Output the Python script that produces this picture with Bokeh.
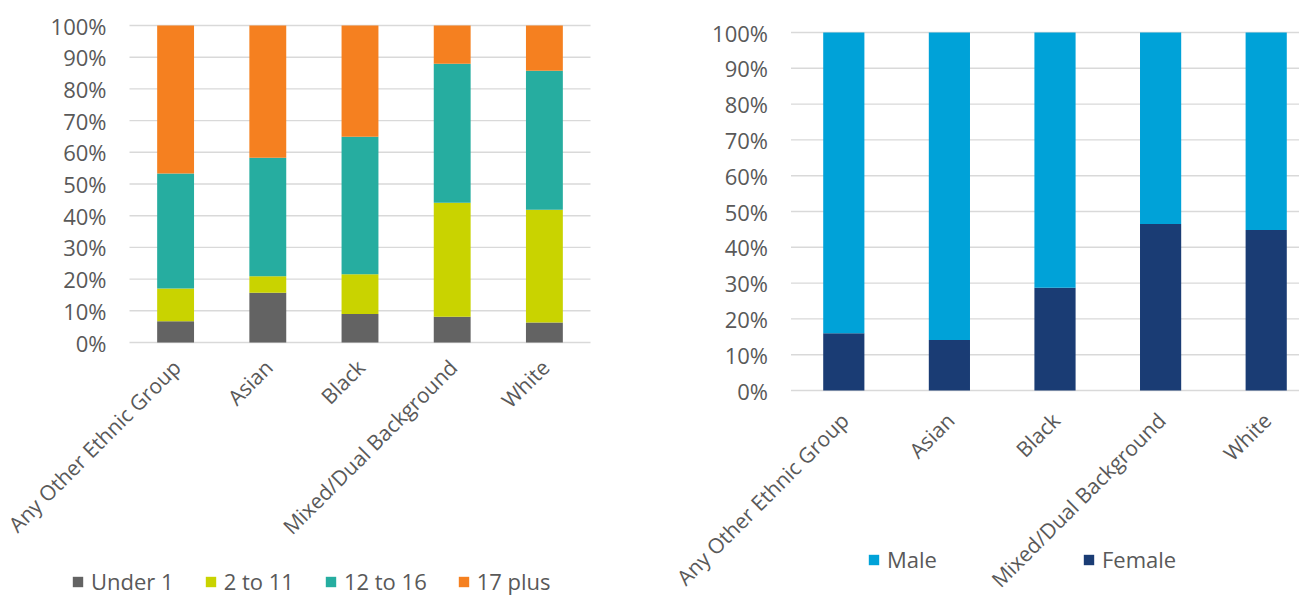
import math
from bokeh.plotting import figure
from bokeh.models import Legend, LegendItem, Range1d, ColumnDataSource
from bokeh.core.properties import value
from bokeh.layouts import row
from bokeh.embed import file_html
from bokeh.resources import INLINE

# ---------------- data ----------------
categories = ["Any Other Ethnic Group", "Asian", "Black",
              "Mixed/Dual Background", "White"]

age_groups = ["Under 1", "2 to 11", "12 to 16", "17 plus"]
under_1 = [6.7, 15.7, 9.0, 8.1, 6.3]
age_2_to_11 = [10.3, 5.2, 12.5, 36.0, 35.6]
age_12_to_16 = [36.3, 37.4, 43.4, 43.8, 43.8]
age_17_plus = [46.7, 41.7, 35.1, 12.1, 14.3]

genders = ["Male", "Female"]
female = [16.0, 14.1, 28.7, 46.5, 44.8]
male = [84.0, 85.9, 71.3, 53.5, 55.2]

y_ticks = [i / 10 for i in range(11)]
y_tick_labels = ["0%", "10%", "20%", "30%", "40%", "50%",
                 "60%", "70%", "80%", "90%", "100%"]

age_colors = ["#636363", "#c9d300", "#26ada0", "#f58020"]
gender_colors = {"Male": "#00a2d8", "Female": "#1a3c74"}

FONT = "Open Sans"
TXT = "#595959"
GRID = "#d9d9d9"
H = 609

xs = list(range(len(categories)))


def make_fig(width, frame_left, frame_right, frame_top, frame_bottom):
    """Figure whose canvas is entirely data space; the plot area of the
    original chart spans categories -0.5..n-0.5 horizontally and 0..1
    vertically between the given pixel edges."""
    n = len(categories)
    ux = (frame_right - frame_left) / n
    uy = (frame_bottom - frame_top)
    x0 = -0.5 - frame_left / ux
    x1 = x0 + width / ux
    y0 = -(H - frame_bottom) / uy
    y1 = 1 + frame_top / uy
    p = figure(width=width, height=H, x_range=Range1d(x0, x1),
               y_range=Range1d(y0, y1), output_backend="svg",
               toolbar_location=None, x_axis_type=None, y_axis_type=None,
               min_border=0)
    p.outline_line_color = None
    p.xgrid.visible = False
    p.ygrid.visible = False
    # horizontal grid lines at the tick values
    p.segment(x0=[-0.5] * len(y_ticks), x1=[n - 0.5] * len(y_ticks),
              y0=y_ticks, y1=y_ticks, line_color=GRID, line_width=1.4)
    # y tick labels
    p.text(x=[-0.5] * len(y_ticks), y=y_ticks, text=y_tick_labels,
           x_offset=-23, text_align="right", text_baseline="middle",
           text_font=value(FONT), text_font_size="22px", text_color=TXT)
    return p


def add_cat_labels(p, x_off, y_off):
    p.text(x=xs, y=[0] * len(xs), text=categories, angle=math.pi / 4,
           x_offset=x_off, y_offset=y_off, text_align="right",
           text_baseline="middle", text_font=value(FONT),
           text_font_size="21px", text_color=TXT)


def make_legend(items, loc, spacing):
    return Legend(items=items, orientation="horizontal", location=loc,
                  label_text_font=FONT, label_text_font_size="22px",
                  label_text_color=TXT, glyph_width=13, glyph_height=13,
                  label_standoff=7, spacing=spacing, padding=0, margin=0,
                  border_line_color=None, background_fill_alpha=0)


# ---------------- left chart ----------------
src1 = ColumnDataSource(data={
    "x": xs,
    age_groups[0]: [v / 100 for v in under_1],
    age_groups[1]: [v / 100 for v in age_2_to_11],
    age_groups[2]: [v / 100 for v in age_12_to_16],
    age_groups[3]: [v / 100 for v in age_17_plus],
})

p1 = make_fig(640, 129, 590, 25, 342)
r1 = p1.vbar_stack(age_groups, x="x", width=0.4, color=age_colors,
                   line_color=None, source=src1)
add_cat_labels(p1, 1, 21)
items1 = [LegendItem(label=n, renderers=[r]) for n, r in zip(age_groups, r1)]
p1.add_layout(make_legend(items1, (71, 13), 30))

# ---------------- right chart ----------------
src2 = ColumnDataSource(data={
    "x": xs,
    "Female": [v / 100 for v in female],
    "Male": [v / 100 for v in male],
})

p2 = make_fig(659, 150.5, 678.5, 32, 390)
r2 = p2.vbar_stack(["Female", "Male"], x="x", width=0.39,
                   color=[gender_colors["Female"], gender_colors["Male"]],
                   line_color=None, source=src2)
add_cat_labels(p2, 1, 26)
rmap = {"Female": r2[0], "Male": r2[1]}
items2 = [LegendItem(label=g, renderers=[rmap[g]]) for g in genders]
p2.add_layout(make_legend(items2, (227, 35), 145))

layout = row(p1, p2, spacing=0)
open("out.html", "w").write(file_html(layout, INLINE))
